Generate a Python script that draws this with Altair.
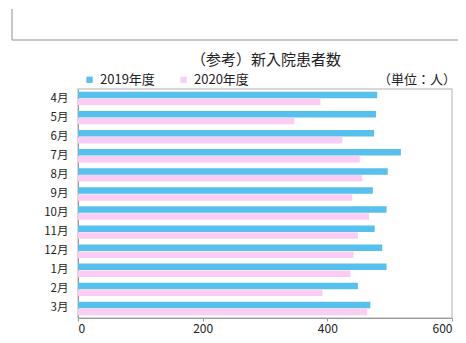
import altair as alt
import pandas as pd

months = ["4月", "5月", "6月", "7月", "8月", "9月", "10月", "11月", "12月", "1月", "2月", "3月"]
v2019 = [480, 478, 475, 518, 497, 473, 495, 476, 488, 495, 449, 469]
v2020 = [389, 347, 424, 452, 456, 440, 467, 449, 442, 437, 392, 464]
years = ["2019年度", "2020年度"]
colors = ["#58C0EC", "#FBCDF4"]
title_text = "（参考）新入院患者数"
unit_text = "（単位：人）"

rows = []
for m, a, b in zip(months, v2019, v2020):
    rows.append({"month": m, "year": years[0], "value": a})
    rows.append({"month": m, "year": years[1], "value": b})
df = pd.DataFrame(rows)

FONT = "Noto Sans CJK JP"

bars = alt.Chart(df).mark_bar().encode(
    y=alt.Y("month:N", sort=months, title=None,
            scale=alt.Scale(paddingInner=0.3, paddingOuter=0.15),
            axis=alt.Axis(ticks=False, labelFontSize=11.5, labelPadding=10,
                          labelColor="#222", domainColor="#999", labelFont=FONT)),
    yOffset=alt.YOffset("year:N", sort=years, scale=alt.Scale(paddingInner=0.05)),
    x=alt.X("value:Q", title=None,
            scale=alt.Scale(domain=[0, 600]),
            axis=alt.Axis(values=[0, 200, 400, 600], grid=False, tickSize=3,
                          labelFontSize=12, labelPadding=2, labelColor="#222",
                          domainColor="#999", tickColor="#999", labelFont=FONT)),
    color=alt.Color("year:N", sort=years,
                    scale=alt.Scale(domain=years, range=colors),
                    legend=alt.Legend(title=None, orient="none", direction="horizontal",
                                      legendX=5, legendY=-16, symbolType="square",
                                      symbolSize=40, labelFontSize=13, labelFont=FONT,
                                      labelColor="#222", columnPadding=22)),
)

unit = alt.Chart(pd.DataFrame({"t": [unit_text]})).mark_text(
    align="right", baseline="middle", fontSize=13, font=FONT, color="#222"
).encode(text="t:N", x=alt.value(378), y=alt.value(-9))

title = alt.Chart(pd.DataFrame({"t": [title_text]})).mark_text(
    align="center", baseline="middle", fontSize=15, font=FONT, color="#222"
).encode(text="t:N", x=alt.value(188), y=alt.value(-29))

vline = alt.Chart(pd.DataFrame({"a": [0]})).mark_rule(color="#b5b5b5", strokeWidth=1.5).encode(
    x=alt.value(-66), y=alt.value(-80), y2=alt.value(-49))
hline = alt.Chart(pd.DataFrame({"a": [0]})).mark_rule(color="#b5b5b5", strokeWidth=1.5).encode(
    x=alt.value(-66), x2=alt.value(380), y=alt.value(-49))

chart = alt.layer(bars, unit, title, vline, hline).properties(
    width=374, height=229,
    autosize=alt.AutoSizeParams(type="none"),
    padding={"left": 70, "top": 81, "right": 6, "bottom": 17},
).configure_view(stroke="#cccccc", strokeWidth=1.5)

chart.save("out.html", embed_options={"renderer": "svg", "actions": False})
